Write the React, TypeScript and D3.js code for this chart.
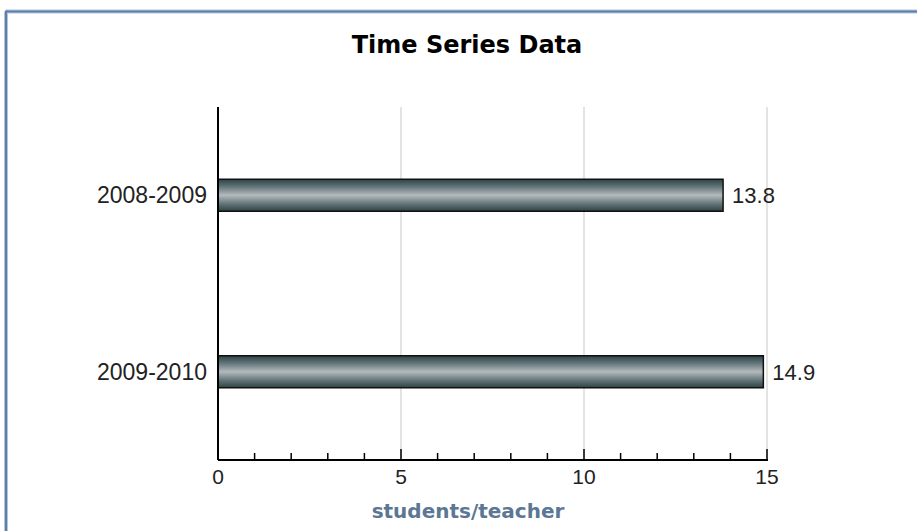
import React from "react";
import * as d3 from "d3";

const categories = ["2008-2009", "2009-2010"];
const values = [13.8, 14.9];
const majorTicks = [0, 5, 10, 15];
const minorTicks = d3.range(0, 16, 1);
const title = "Time Series Data";
const xTitle = "students/teacher";

export default function App() {
  const W = 917, H = 531;
  const left = 218, right = 767, top = 107, bottom = 460;
  const x = d3.scaleLinear().domain([0, 15]).range([left, right]);
  const y = d3.scaleBand().domain(categories).range([top, bottom]).paddingInner(0.0).paddingOuter(0);
  const barH = 32;
  const font = "'Liberation Sans', Arial, sans-serif";
  const boldFont = "'DejaVu Sans', Verdana, sans-serif";
  return (
    <svg width={W} height={H} style={{ position: "absolute", left: 0, top: 0, background: "#fff" }}>
      <defs>
        <linearGradient id="barGrad" x1="0" y1="0" x2="0" y2="1">
          <stop offset="0%" stopColor="#2f4346" />
          <stop offset="20%" stopColor="#5a6d71" />
          <stop offset="50%" stopColor="#b3babc" />
          <stop offset="80%" stopColor="#5a6d71" />
          <stop offset="100%" stopColor="#2f4346" />
        </linearGradient>
      </defs>
      {/* frame */}
      <line x1={6} y1={11.5} x2={W} y2={11.5} stroke="#b4c5db" strokeWidth={4} />
      <line x1={6} y1={11.5} x2={6} y2={H} stroke="#b4c5db" strokeWidth={4} />
      <line x1={6} y1={11.5} x2={W} y2={11.5} stroke="#5f7fa8" strokeWidth={2} />
      <line x1={6} y1={10.5} x2={6} y2={H} stroke="#5f7fa8" strokeWidth={2} />
      <text x={467} y={53} textAnchor="middle" fontFamily={boldFont} fontWeight="bold" fontSize={24} fill="#000">{title}</text>
      {/* grid */}
      {majorTicks.filter(t => t > 0).map(t => (
        <line key={"g" + t} x1={x(t)} x2={x(t)} y1={top} y2={bottom} stroke="#dadada" strokeWidth={1.5} />
      ))}
      {/* bars */}
      {categories.map((c, i) => {
        const cy = (y(c) as number) + y.bandwidth() / 2;
        return (
          <g key={c}>
            <rect x={x(0)} y={cy - barH / 2} width={x(values[i]) - x(0)} height={barH} fill="url(#barGrad)" stroke="#111" strokeWidth={1.5} />
            <text x={x(values[i]) + 9} y={cy + 8} fontFamily={font} fontSize={22} fill="#222">{values[i]}</text>
            <text x={207} y={cy + 8} textAnchor="end" fontFamily={font} fontSize={23} fill="#222">{c}</text>
          </g>
        );
      })}
      {/* axes */}
      <line x1={left} x2={left} y1={top} y2={bottom} stroke="#000" strokeWidth={2} />
      <line x1={left} x2={right + 1} y1={bottom} y2={bottom} stroke="#000" strokeWidth={2} />
      {minorTicks.map(t => {
        const major = t % 5 === 0;
        return <line key={"t" + t} x1={x(t)} x2={x(t)} y1={bottom} y2={bottom - (major ? 11 : 7)} stroke="#000" strokeWidth={1.5} />;
      })}
      {majorTicks.map(t => (
        <text key={"l" + t} x={x(t)} y={484} textAnchor="middle" fontFamily={font} fontSize={21} fill="#222">{t}</text>
      ))}
      <text x={468} y={518} textAnchor="middle" fontFamily={boldFont} fontWeight="bold" fontSize={20} fill="#5b7793">{xTitle}</text>
    </svg>
  );
}
